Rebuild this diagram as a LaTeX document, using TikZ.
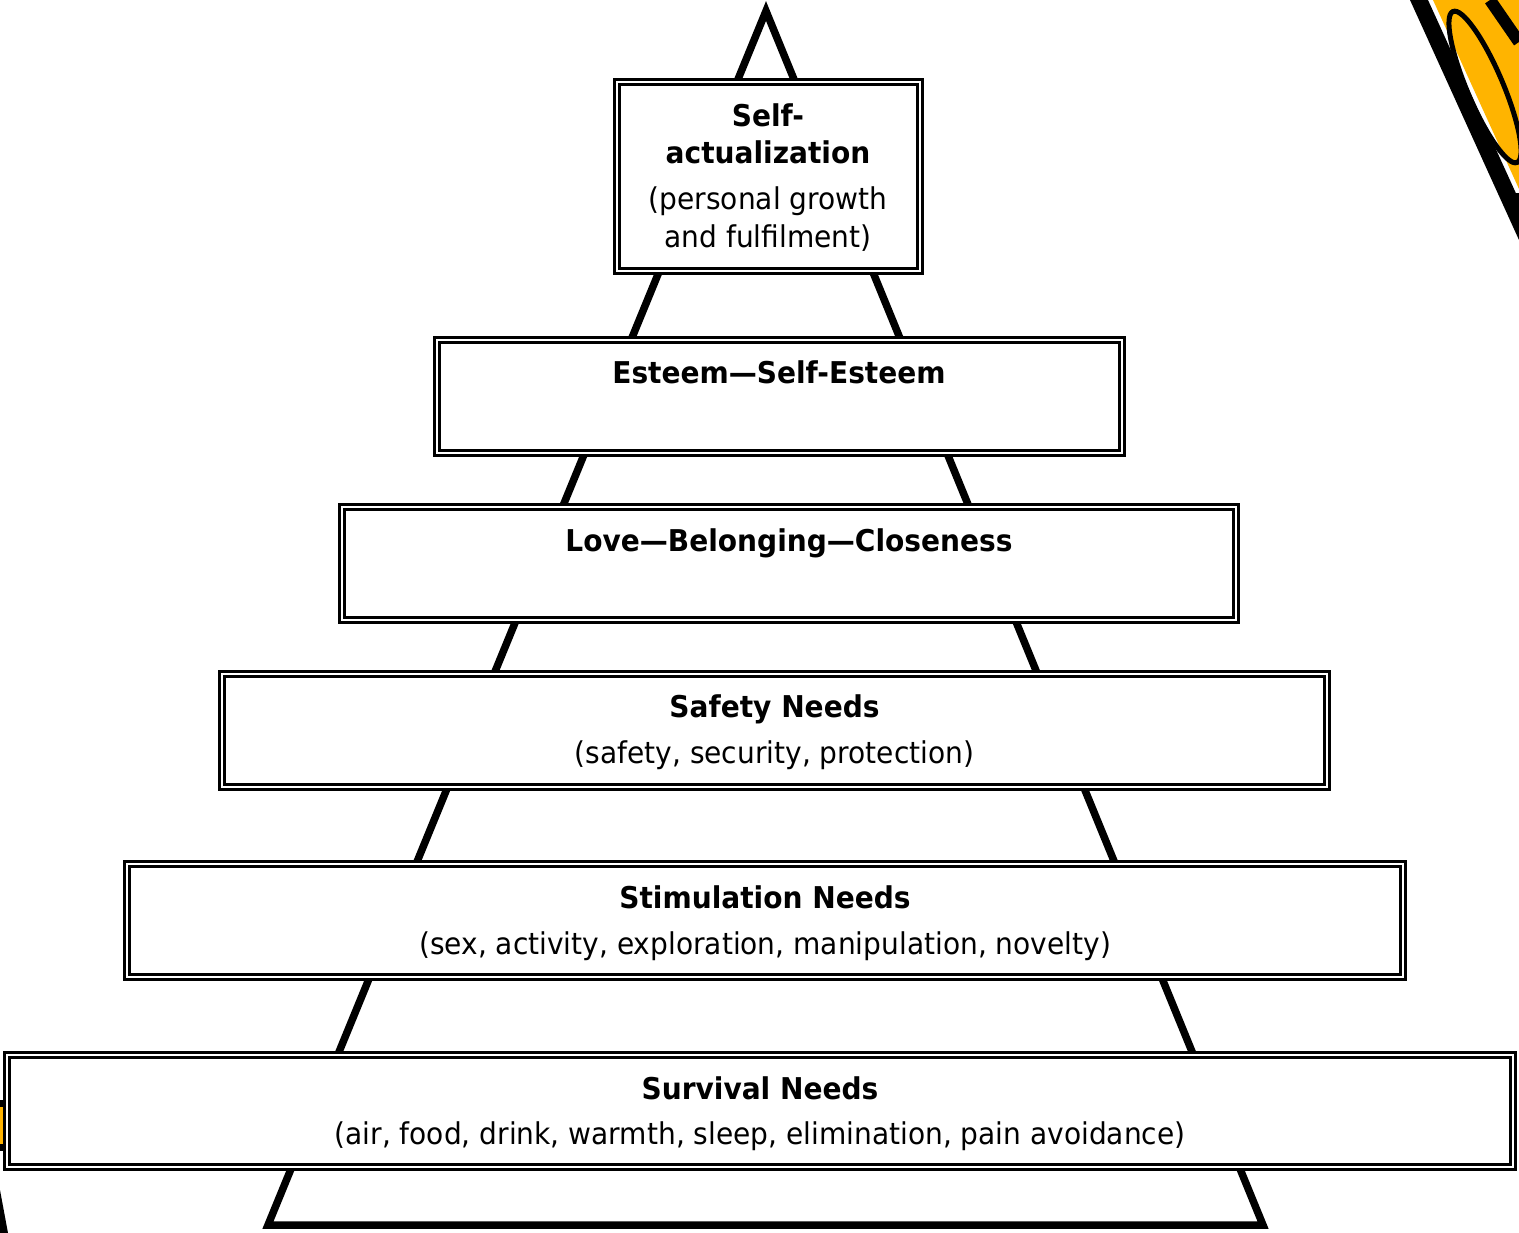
\documentclass[tikz,border=0pt]{standalone}
\usepackage{fontspec}
\setmainfont{DejaVu Sans}[FakeStretch=0.935]
\usepackage{tikz}
\definecolor{pencil}{HTML}{FFB400}

\begin{document}
\begin{tikzpicture}[x=1pt, y=-1pt,
  every node/.style={font=\fontsize{30}{36}\selectfont},
  tier/.style={draw, double, double distance=2.2pt, line width=2.8pt, fill=white, inner sep=0pt},
  ttl/.style={font=\fontsize{30}{36}\selectfont\bfseries, inner sep=0pt, text height=22pt, text depth=0pt},
  sub/.style={inner sep=0pt, text height=22pt, text depth=0pt},
  leg/.style={line width=7.5pt, line join=miter}]
\useasboundingbox (0,0) rectangle (1519,1233);

% Pencil clip art (top right, bottom left)
\fill[black] (1410,0) -- (1428,0) -- (1519,200) -- (1519,240) -- cycle;
\fill[pencil] (1433,0) -- (1519,0) -- (1519,189) -- cycle;
\draw[line width=12pt] (1490,0) -- (1519,42);
\draw[line width=5pt, rotate around={-67:(1485,87)}] (1485,87) ellipse [x radius=82pt, y radius=18pt];
\fill[black] (1508,193) rectangle (1519,202);
\fill[pencil] (0,1104) rectangle (7,1148);
\fill[black] (0,1100) rectangle (7,1107);
\fill[black] (0,1144) rectangle (7,1151);
\fill[black] (0,1190) -- (8,1233) -- (0,1233) -- cycle;

% Pyramid outline behind the tiers
\draw[leg] (268,1225) -- (766,11) -- (1263,1225) -- cycle;

% Tiers (bottom to top)
\node[tier, minimum width=1506pt, minimum height=112pt] (surv) at (760,1111) {};
\node[tier, minimum width=1276pt, minimum height=113pt] (stim) at (765,920.5) {};
\node[tier, minimum width=1105pt, minimum height=113pt] (safe) at (774.5,730.5) {};
\node[tier, minimum width=894pt, minimum height=113pt] (love) at (789,563.5) {};
\node[tier, minimum width=685pt, minimum height=113pt] (est) at (779.5,396.5) {};
\node[tier, minimum width=303pt, minimum height=189pt] (self) at (768.5,176.5) {};

% Labels
\node[ttl] (survT) at (760,1088) {Survival Needs};
\node[sub] (survS) at (760,1133) {(air, food, drink, warmth, sleep, elimination, pain avoidance)};
\node[ttl] (stimT) at (765,897) {Stimulation Needs};
\node[sub] (stimS) at (765,943) {(sex, activity, exploration, manipulation, novelty)};
\node[ttl] (safeT) at (774.5,706) {Safety Needs};
\node[sub] (safeS) at (774.5,752) {(safety, security, protection)};
\node[ttl] (loveT) at (789,540) {Love—Belonging—Closeness};
\node[ttl] (estT) at (779,373) {Esteem—Self-Esteem};
\node[ttl] (selfT1) at (768,116) {Self-};
\node[ttl] (selfT2) at (768,153) {actualization};
\node[sub] (selfS1) at (768,199) {(personal growth};
\node[sub] (selfS2) at (768,237) {and fulfilment)};

\end{tikzpicture}
\end{document}
